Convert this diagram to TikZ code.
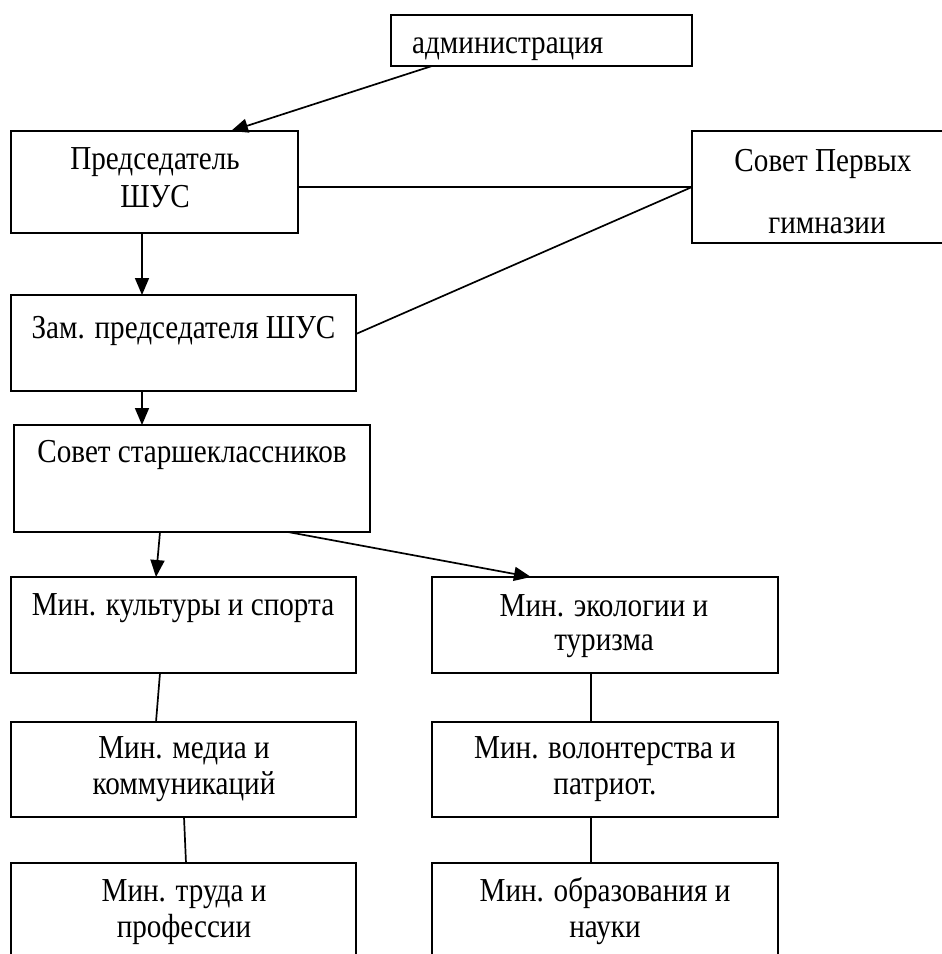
\documentclass[tikz,border=0pt]{standalone}
\usepackage{fontspec}
\setmainfont[FakeStretch=0.87]{Liberation Serif}
\usetikzlibrary{arrows.meta}
\tikzset{
  box/.style={draw, line width=1.3pt, inner sep=0pt, outer sep=0pt},
  txt/.style={inner sep=0pt, anchor=base, font=\fontsize{33.5}{37}\selectfont},
  conn/.style={line width=1.7pt},
  arr/.style={line width=1.7pt, -{Triangle[length=17pt,width=14pt]}}
}
\begin{document}
\begin{tikzpicture}[x=1pt,y=-1pt]
\useasboundingbox (0,0) rectangle (942,954);
\clip (0,0) rectangle (942,954);
\fill[white] (0,0) rectangle (942,954);
% boxes
\node[box, minimum width=301pt, minimum height=51pt] (adm) at (541.5,40.5) {};
\node[box, minimum width=287pt, minimum height=102pt] (pred) at (154.5,182) {};
\node[box, minimum width=308pt, minimum height=112pt] (sov1) at (846,187) {};
\node[box, minimum width=345pt, minimum height=96pt] (zam) at (183.5,343) {};
\node[box, minimum width=356pt, minimum height=107pt] (sst) at (192,478.5) {};
\node[box, minimum width=345pt, minimum height=96pt] (kult) at (183.5,625) {};
\node[box, minimum width=346pt, minimum height=96pt] (ekol) at (605,625) {};
\node[box, minimum width=345pt, minimum height=95pt] (media) at (183.5,769.5) {};
\node[box, minimum width=346pt, minimum height=95pt] (volon) at (605,769.5) {};
\node[box, minimum width=345pt, minimum height=137pt] (trud) at (183.5,931.5) {};
\node[box, minimum width=346pt, minimum height=137pt] (obraz) at (605,931.5) {};
% texts
\node[txt, anchor=base west] (tadm) at (412,53) {администрация};
\node[txt] (tpred1) at (155,169) {Председатель};
\node[txt] (tpred2) at (155,207) {ШУС};
\node[txt] (tsov1a) at (823,171) {Совет Первых};
\node[txt] (tsov1b) at (827,233) {гимназии};
\node[txt] (tzam) at (183.5,338) {Зам. председателя ШУС};
\node[txt] (tsst) at (192,462) {Совет старшеклассников};
\node[txt] (tkult) at (183,615) {Мин. культуры и спорта};
\node[txt] (tekol1) at (604,616) {Мин. экологии и};
\node[txt] (tekol2) at (604,650) {туризма};
\node[txt] (tmedia1) at (184,758) {Мин. медиа и};
\node[txt] (tmedia2) at (184,794) {коммуникаций};
\node[txt] (tvolon1) at (605,758) {Мин. волонтерства и};
\node[txt] (tvolon2) at (605,794) {патриот.};
\node[txt] (ttrud1) at (184,901) {Мин. труда и};
\node[txt] (ttrud2) at (184,937) {профессии};
\node[txt] (tobraz1) at (605,901) {Мин. образования и};
\node[txt] (tobraz2) at (605,937) {науки};
% connectors
\draw[arr] ([xshift=-109.5pt]adm.south) -- ([xshift=76.5pt]pred.north);
\draw[conn] (pred.east |- sov1.west) -- (sov1.west);
\draw[conn] (sov1.west) -- ([yshift=9pt]zam.east);
\draw[arr] ([xshift=-12.5pt]pred.south) -- ([xshift=-41.5pt]zam.north);
\draw[arr] ([xshift=-41.5pt]zam.south) -- ([xshift=-50pt]sst.north);
\draw[arr] ([xshift=-32pt]sst.south) -- ([xshift=-27.5pt]kult.north);
\draw[arr] ([xshift=96pt]sst.south) -- ([xshift=-74pt]ekol.north);
\draw[conn] ([xshift=-23.5pt]kult.south) -- ([xshift=-27.5pt]media.north);
\draw[conn] ([xshift=0.5pt]media.south) -- ([xshift=2.5pt]trud.north);
\draw[conn] ([xshift=-14pt]ekol.south) -- ([xshift=-14pt]volon.north);
\draw[conn] ([xshift=-14pt]volon.south) -- ([xshift=-14pt]obraz.north);
\end{tikzpicture}
\end{document}
